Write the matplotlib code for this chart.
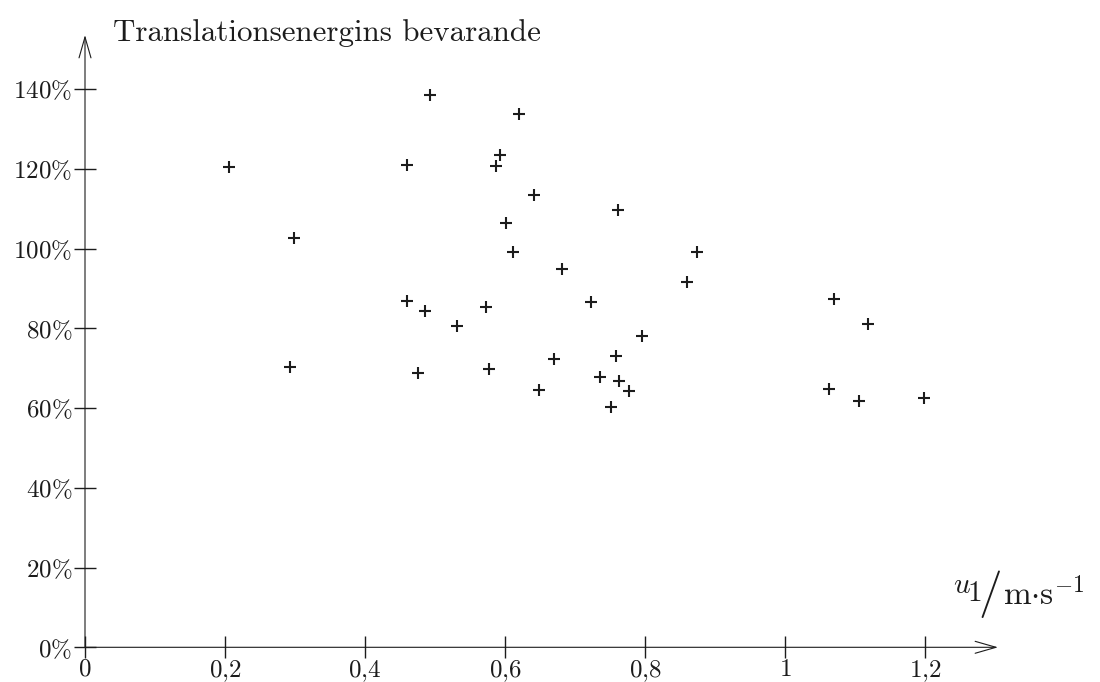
import numpy as np
import matplotlib
matplotlib.use('Agg')
import matplotlib.pyplot as plt
from matplotlib.transforms import IdentityTransform

# speed u1 (m/s) and conserved translational energy (%)
u1 = [0.205, 0.299, 0.293,
      0.493, 0.620, 0.593, 0.587, 0.460, 0.602, 0.611, 0.460, 0.486,
      0.532, 0.573, 0.475, 0.577,
      0.641, 0.762, 0.682, 0.723, 0.796, 0.670, 0.759, 0.735, 0.763,
      0.777, 0.649, 0.751,
      0.874, 0.860,
      1.070, 1.119, 1.063, 1.105, 1.198]
bevarande = [120.4, 102.6, 70.2,
             138.6, 133.7, 123.5, 120.6, 121.0, 106.4, 99.2, 86.9, 84.3,
             80.7, 85.3, 68.7, 69.8,
             113.4, 109.6, 94.9, 86.7, 78.1, 72.3, 73.1, 67.7, 66.8,
             64.3, 64.5, 60.3,
             99.2, 91.5,
             87.3, 81.0, 64.7, 61.8, 62.4]

xticks = [0, 0.2, 0.4, 0.6, 0.8, 1.0, 1.2]
xtick_labels = ['$0$', '$0{,}2$', '$0{,}4$', '$0{,}6$', '$0{,}8$', '$1$', '$1{,}2$']
yticks = [0, 20, 40, 60, 80, 100, 120, 140]
ytick_labels = [r'$%d\%%$' % v for v in yticks]

ink = '#1c1c1c'
W, H = 1100, 682

plt.rcParams['mathtext.fontset'] = 'cm'
plt.rcParams['font.family'] = 'serif'
plt.rcParams['font.serif'] = ['cmr10']
plt.rcParams['axes.unicode_minus'] = False

fig = plt.figure(figsize=(W / 100, H / 100), dpi=100)
x0, y0 = 85, 647.3          # origin in image pixels
xtip, ytip = 998, 35        # arrow tips
ax = fig.add_axes([x0 / W, (H - y0) / H, (xtip - x0) / W, (y0 - ytip) / H])
ax.set_xlim(0, (xtip - x0) / 700)
ax.set_ylim(0, (y0 - ytip) / 3.9875)

ax.plot(u1, bevarande, '+', ms=9, mew=1.5, color=ink, clip_on=False)

for s in ax.spines.values():
    s.set_visible(False)
arrow = dict(arrowstyle='->,head_length=1.5,head_width=0.43', lw=0.8,
             color=ink, shrinkA=0, shrinkB=0, mutation_scale=10)
ax.annotate('', xy=(1, 0), xytext=(0, 0), xycoords='axes fraction',
            textcoords='axes fraction', arrowprops=arrow)
ax.annotate('', xy=(0, 1), xytext=(0, 0), xycoords='axes fraction',
            textcoords='axes fraction', arrowprops=arrow)

ax.set_xticks(xticks, xtick_labels)
ax.set_yticks(yticks, ytick_labels)
ax.tick_params(direction='inout', length=15.5, width=1.0, pad=1.5,
               colors=ink, labelsize=18)
ax.tick_params(axis='x', pad=0.3)

# titles placed in pixel coordinates
def ptext(x, y, s, **kw):
    fig.text(x, H - y, s, transform=IdentityTransform(), color=ink,
             va='baseline', ha='left', **kw)

ptext(113, 41, 'Translationsenergins bevarande', fontsize=22.3)
ptext(953, 593, '$u$', fontsize=21)
ptext(967, 601, '$1$', fontsize=21)
ptext(978, 606, '$/$', fontsize=34)
ptext(1003, 605, r'$\mathrm{m{\cdot}s}^{-1}$', fontsize=24)

fig.savefig('out.png', dpi=100)
